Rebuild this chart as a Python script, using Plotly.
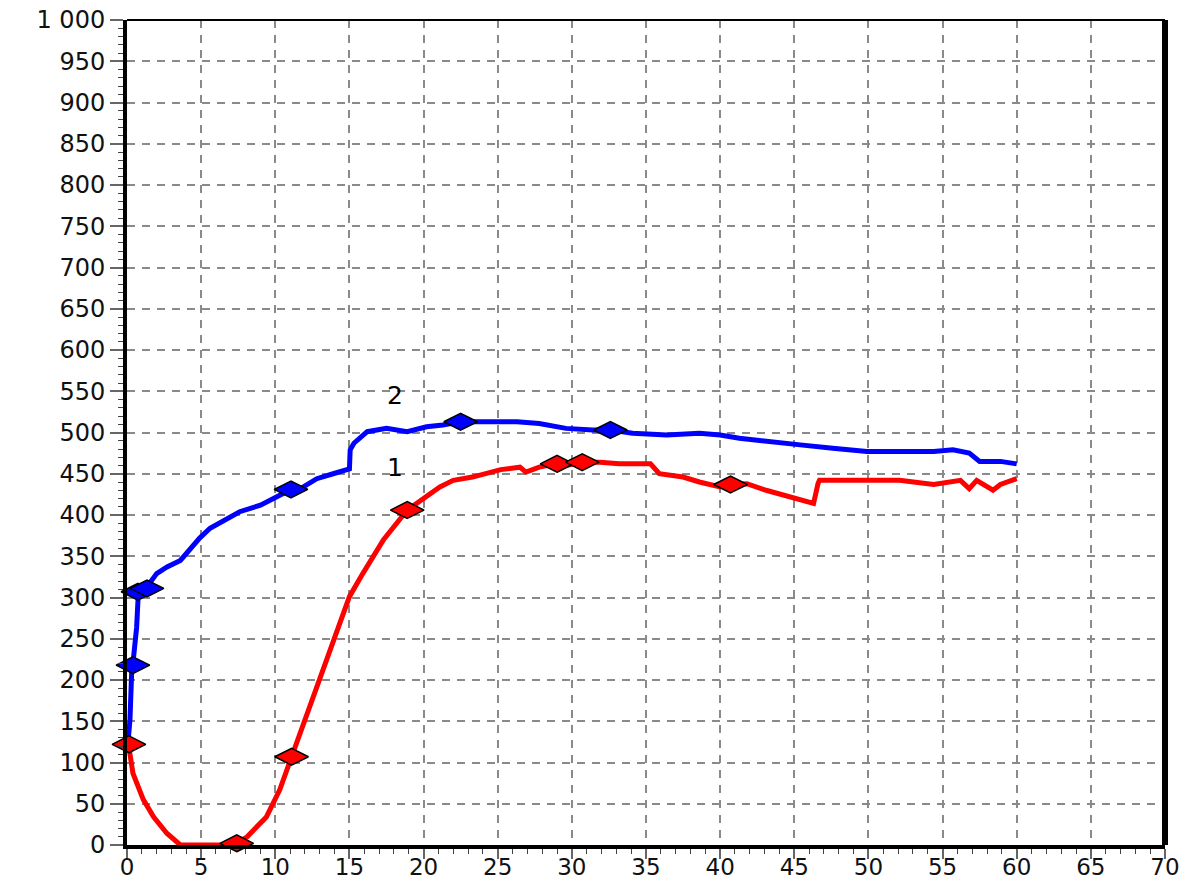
import plotly.graph_objects as go

# Curve 1 (red)
red_x = [0.1, 0.4, 1.1, 1.8, 2.7, 3.4, 3.6, 7.0, 7.4, 8.1, 9.4, 10.3, 11.1, 12.1, 13.0, 14.0, 15.0,
         15.9, 17.3, 18.9, 19.8, 21.1, 22.0, 23.3, 25.2, 26.5, 26.9, 27.8, 29.0, 29.6, 30.7, 31.9,
         33.2, 35.3, 35.9, 37.5, 38.6, 40.0, 40.7, 41.8, 43.1, 44.3, 45.4, 46.3, 46.6, 46.7, 49.9,
         52.1, 54.4, 55.0, 56.2, 56.8, 57.3, 58.4, 58.9, 60.0]
red_y = [122, 87, 55, 34, 14, 2, 0, 0, 2, 10, 34, 67, 107, 155, 204, 252, 301,
         329, 370, 406, 418, 434, 442, 446, 455, 458, 452, 458, 462, 460, 464, 464,
         462, 462, 450, 446, 440, 434, 437, 438, 430, 424, 418, 414, 438, 442, 442,
         442, 437, 439, 442, 432, 442, 430, 437, 444]
red_mx = [0.13, 7.4, 11.1, 18.9, 29.0, 30.7, 40.7]
red_my = [122, 2, 107, 406, 462, 464, 437]

# Curve 2 (blue)
blue_x = [0.1, 0.2, 0.32, 0.4, 0.65, 0.75, 0.88, 1.43, 2.0, 2.7, 3.6, 4.9, 5.6, 7.6, 9.0, 11.06,
          11.7, 12.8, 13.9, 15.0, 15.05, 15.3, 16.2, 17.5, 18.9, 20.2, 21.3, 22.5, 24.3, 26.3,
          27.8, 29.6, 31.4, 32.6, 34.1, 36.4, 38.6, 40.0, 41.3, 43.1, 45.4, 47.6, 49.9, 52.1,
          54.4, 55.7, 56.8, 57.5, 58.9, 60.0]
blue_y = [131, 152, 212, 220, 264, 300, 305, 315, 329, 337, 345, 372, 384, 404, 412, 431,
          432, 444, 450, 456, 479, 487, 501, 505, 501, 507, 509, 513, 513, 513,
          511, 505, 503, 503, 499, 497, 499, 497, 493, 489, 485, 481, 477, 477,
          477, 479, 475, 465, 465, 462]
blue_mx = [0.4, 0.74, 1.35, 11.06, 22.5, 32.6]
blue_my = [218, 307, 311, 431, 513, 503]

y_ticks = list(range(0, 1001, 50))
y_labels = ["1 000" if v == 1000 else str(v) for v in y_ticks]
x_ticks = list(range(0, 71, 5))

RED = "#ff0000"
BLUE = "#0000ff"

fig = go.Figure()
fig.add_trace(go.Scatter(x=blue_x, y=blue_y, mode="lines",
                         line=dict(color=BLUE, width=5), showlegend=False))
fig.add_trace(go.Scatter(x=red_x, y=red_y, mode="lines",
                         line=dict(color=RED, width=5), showlegend=False))
fig.add_trace(go.Scatter(x=blue_mx, y=blue_my, mode="markers",
                         marker=dict(symbol="diamond-wide", size=24, color=BLUE,
                                     line=dict(color="black", width=1.5)),
                         showlegend=False, cliponaxis=False))
fig.add_trace(go.Scatter(x=red_mx, y=red_my, mode="markers",
                         marker=dict(symbol="diamond-wide", size=24, color=RED,
                                     line=dict(color="black", width=1.5)),
                         showlegend=False, cliponaxis=False))

fig.add_annotation(x=18.07, y=545, text="2", showarrow=False,
                   font=dict(family="DejaVu Sans", size=25, color="black"))
fig.add_annotation(x=18.07, y=458, text="1", showarrow=False,
                   font=dict(family="DejaVu Sans", size=25, color="black"))

# frame: thin top edge, heavy right edge
fig.add_shape(type="line", xref="paper", yref="paper", x0=0, x1=1, y0=1, y1=1,
              line=dict(color="black", width=2))
fig.add_shape(type="line", xref="paper", yref="paper", x0=1, x1=1, y0=0, y1=1,
              line=dict(color="black", width=6))

tick_font = dict(family="DejaVu Sans", size=24, color="#111111")

fig.update_xaxes(range=[0, 70], tickvals=x_ticks, ticktext=[str(v) for v in x_ticks],
                 showgrid=True, gridcolor="#8a8a8a", gridwidth=2, griddash="8px,7px",
                 zeroline=False, showline=True, linecolor="black", linewidth=4,
                 ticks="outside", ticklen=10, tickwidth=2, tickcolor="#666666",
                 ticklabelstandoff=-12,
                 minor=dict(dtick=1, tick0=0, ticks="outside", ticklen=5, tickwidth=1,
                            tickcolor="#444444", showgrid=False),
                 tickfont=dict(family="DejaVu Sans", size=23, color="#111111"),
                 automargin=False, fixedrange=True)
fig.update_yaxes(range=[0, 1000], tickvals=y_ticks, ticktext=y_labels,
                 showgrid=True, gridcolor="#8a8a8a", gridwidth=2, griddash="8px,7px",
                 zeroline=False, showline=True, linecolor="black", linewidth=4,
                 ticks="outside", ticklen=13, tickwidth=2, tickcolor="#666666",
                 minor=dict(dtick=10, tick0=0, ticks="outside", ticklen=5, tickwidth=1,
                            tickcolor="#444444", showgrid=False),
                 tickfont=tick_font, automargin=False, fixedrange=True)

fig.update_layout(width=1189, height=890,
                  margin=dict(l=127, r=24, t=20, b=45),
                  plot_bgcolor="white", paper_bgcolor="white")

fig.write_html("out.html")
